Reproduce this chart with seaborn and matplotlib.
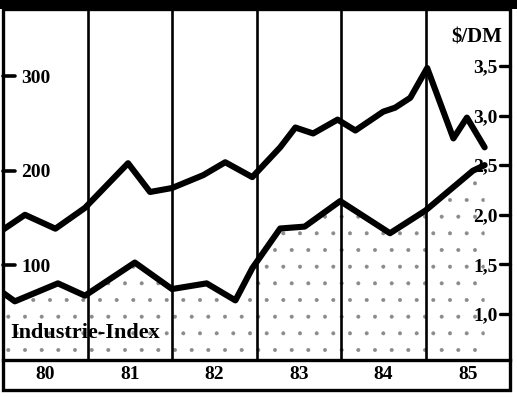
import matplotlib
matplotlib.use("Agg")
import matplotlib.pyplot as plt
from matplotlib.patches import Rectangle
from matplotlib.lines import Line2D
import pandas as pd
import seaborn as sns

# Year columns along the bottom band
year_labels = ["80", "81", "82", "83", "84", "85"]
year_centers = [1980.5, 1981.5, 1982.5, 1983.5, 1984.5, 1985.5]
year_bounds = [1981, 1982, 1983, 1984, 1985]

# Dollar / D-Mark exchange rate (right axis)
dm_time = [1980.00, 1980.26, 1980.62, 1980.97, 1981.48, 1981.74, 1982.00,
           1982.37, 1982.63, 1982.95, 1983.28, 1983.46, 1983.67, 1983.96,
           1984.17, 1984.50, 1984.64, 1984.82, 1985.02, 1985.33, 1985.49,
           1985.70]
dm_rate = [1.85, 2.00, 1.86, 2.07, 2.52, 2.23, 2.27,
           2.40, 2.53, 2.38, 2.68, 2.88, 2.82, 2.96,
           2.85, 3.04, 3.08, 3.18, 3.48, 2.77, 2.98,
           2.68]

# Industrie-Index (left axis)
idx_time = [1980.00, 1980.14, 1980.65, 1980.97, 1981.56, 1982.00, 1982.41,
            1982.75, 1982.95, 1983.28, 1983.57, 1983.99, 1984.58, 1985.00,
            1985.56, 1985.70]
idx_value = [71, 62, 81, 68, 103, 75, 81,
             63, 97, 139, 141, 168, 134, 158,
             200, 206]

index_ticks = [100, 200, 300]
index_labels = ["100", "200", "300"]
rate_ticks = [1.0, 1.5, 2.0, 2.5, 3.0, 3.5]
rate_labels = ["1,0", "1,5", "2,0", "2,5", "3,0", "3,5"]

sns.set_style("white")
plt.rcParams["font.family"] = ["Liberation Serif", "DejaVu Serif"]
plt.rcParams["font.weight"] = "bold"
plt.rcParams["hatch.linewidth"] = 0.4
for key in ("text.color", "axes.labelcolor", "xtick.color", "ytick.color"):
    plt.rcParams[key] = "black"

W, H = 517, 397
fig = plt.figure(figsize=(W / 100, H / 100), dpi=100)
fig.patch.set_facecolor("white")


def fx(px):
    return px / W


def fy(py):
    return 1 - py / H


ax = fig.add_axes([fx(3), fy(360), fx(510) - fx(3), fy(9) - fy(360)])
ax.set_xlim(1980, 1986)
ax.set_ylim(0, 371)

df_idx = pd.DataFrame({"Jahr": idx_time, "Index": idx_value})
df_dm = pd.DataFrame({"Jahr": dm_time, "Kurs": dm_rate})

# sparse stipple under the index line
ax.fill_between(idx_time, 0, idx_value, facecolor="none", hatch=".",
                edgecolor="#8a8a8a", linewidth=0, zorder=1)

# year separators
ax.vlines(year_bounds, 0, 371, color="black", lw=1.9, zorder=2)

sns.lineplot(data=df_idx, x="Jahr", y="Index", ax=ax, color="black",
             lw=4.4, zorder=4)

ax2 = ax.twinx()
ax2.set_ylim(0.536, 4.075)
sns.lineplot(data=df_dm, x="Jahr", y="Kurs", ax=ax2, color="black",
             lw=4.4, zorder=4)

# left axis labels sit inside the frame
ax.set_yticks(index_ticks)
ax.set_yticklabels(index_labels)
ax.tick_params(axis="y", left=False, right=False, length=0,
               pad=-13, labelsize=14, labelcolor="black")
for lab in ax.get_yticklabels():
    lab.set_horizontalalignment("left")
    lab.set_fontweight("bold")

# right axis labels
ax2.set_yticks(rate_ticks)
ax2.set_yticklabels(rate_labels)
ax2.tick_params(axis="y", left=False, right=False, length=0,
                pad=-9, labelsize=14, labelcolor="black")
for lab in ax2.get_yticklabels():
    lab.set_horizontalalignment("right")
    lab.set_fontweight("bold")

# years along the bottom band
ax.set_xticks(year_centers)
ax.set_xticklabels(year_labels)
ax.tick_params(axis="x", bottom=False, length=0, pad=4, labelsize=14,
               labelcolor="black")
for lab in ax.get_xticklabels():
    lab.set_fontweight("bold")

ax.set_xlabel("")
ax.set_ylabel("")
ax2.set_ylabel("")
for a in (ax, ax2):
    for s in a.spines.values():
        s.set_visible(False)
ax.spines["bottom"].set_visible(True)
ax.spines["bottom"].set_linewidth(2.4)
ax.spines["bottom"].set_color("black")
ax.grid(False)
ax2.grid(False)

ax.text((10 - 3) / 507, (360 - 338) / 351, "Industrie-Index",
        transform=ax.transAxes, ha="left", va="baseline", color="black",
        fontsize=16, fontweight="bold", zorder=6)
ax.text((502 - 3) / 507, (360 - 43) / 351, "$/DM",
        transform=ax.transAxes, ha="right", va="baseline", color="black",
        fontsize=15, fontweight="bold", zorder=6)

# short inward tick dashes, placed through each axis' own y scale
to_fig = fig.transFigure.inverted()
for v in index_ticks:
    yf = to_fig.transform(ax.transData.transform((1980, v)))[1]
    fig.add_artist(Line2D([fx(3), fx(15)], [yf, yf], color="black",
                          lw=2.6, zorder=10))
for v in rate_ticks:
    yf = to_fig.transform(ax2.transData.transform((1980, v)))[1]
    fig.add_artist(Line2D([fx(500), fx(510)], [yf, yf], color="black",
                          lw=2.4, zorder=10))

# outer frame including the year band, and the black header bar
fig.add_artist(Rectangle((fx(3), fy(390)), fx(510) - fx(3), fy(9) - fy(390),
                         transform=fig.transFigure, fill=False,
                         edgecolor="black", lw=2.4))
fig.add_artist(Rectangle((0, fy(9)), 1, 1 - fy(9), transform=fig.transFigure,
                         facecolor="black", edgecolor="none"))

fig.savefig("out.png", dpi=100, facecolor="white")
